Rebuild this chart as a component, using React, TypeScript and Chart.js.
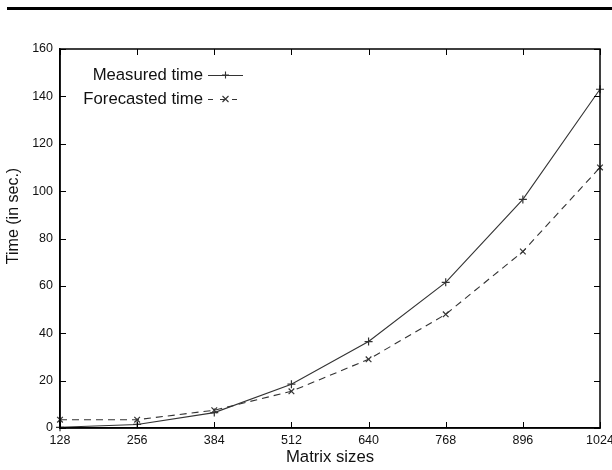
import React, { useEffect, useRef } from "react";
import { Chart, registerables } from "chart.js";

Chart.register(...registerables);

const matrixSizes = [128, 256, 384, 512, 640, 768, 896, 1024];
const measuredTime = [0.3, 1.5, 6.5, 18.5, 36.5, 61.5, 96.5, 143];
const forecastedTime = [3.5, 3.5, 7.5, 15.5, 29, 48, 74.5, 110];
const yTickValues = [0, 20, 40, 60, 80, 100, 120, 140, 160];
const seriesLabels = ["Measured time", "Forecasted time"];
const xTitle = "Matrix sizes";
const yTitle = "Time (in sec.)";

const FONT = '"Liberation Sans", Arial, Helvetica, sans-serif';
const LINE = "#333333";

const framePlugin = {
  id: "frame",
  afterDraw(chart: any) {
    const { ctx, chartArea, scales } = chart;
    const { left, right, top, bottom } = chartArea;
    const x = scales.x;
    const y = scales.y;
    const tl = 6;
    ctx.save();
    ctx.strokeStyle = "#000";
    ctx.lineWidth = 1;
    ctx.beginPath();
    matrixSizes.forEach((v) => {
      const px = Math.round(x.getPixelForValue(v)) + 0.5;
      ctx.moveTo(px, bottom);
      ctx.lineTo(px, bottom - tl);
      ctx.moveTo(px, top);
      ctx.lineTo(px, top + tl);
    });
    yTickValues.forEach((v) => {
      const py = Math.round(y.getPixelForValue(v)) + 0.5;
      ctx.moveTo(left, py);
      ctx.lineTo(left + tl, py);
      ctx.moveTo(right, py);
      ctx.lineTo(right - tl, py);
    });
    ctx.stroke();
    ctx.lineWidth = 1.5;
    ctx.strokeRect(left, top, right - left, bottom - top);

    // top rule
    ctx.fillStyle = "#000";
    ctx.fillRect(7, 7, chart.width - 7, 3);

    // y title
    ctx.save();
    ctx.translate(14, 216);
    ctx.rotate(-Math.PI / 2);
    ctx.font = `16px ${FONT}`;
    ctx.textAlign = "center";
    ctx.textBaseline = "middle";
    ctx.fillStyle = "#111";
    ctx.fillText(yTitle, 0, 0);
    ctx.restore();

    // legend
    ctx.font = `16.7px ${FONT}`;
    ctx.textAlign = "right";
    ctx.textBaseline = "middle";
    ctx.fillStyle = "#111";
    const textRight = 203;
    const rows = [75, 99];
    const lx1 = 208;
    const lx2 = 243;
    const mid = (lx1 + lx2) / 2;
    seriesLabels.forEach((label, i) => {
      const ry = rows[i];
      ctx.fillText(label, textRight, ry);
      ctx.strokeStyle = LINE;
      ctx.lineWidth = 1.1;
      ctx.beginPath();
      if (i === 0) {
        ctx.setLineDash([]);
        ctx.moveTo(lx1, ry + 0.5);
        ctx.lineTo(lx2, ry + 0.5);
        ctx.stroke();
        ctx.beginPath();
        ctx.moveTo(mid, ry - 3.5);
        ctx.lineTo(mid, ry + 3.5);
        ctx.moveTo(mid - 3.5, ry);
        ctx.lineTo(mid + 3.5, ry);
        ctx.stroke();
      } else {
        ctx.setLineDash([5, 7]);
        ctx.moveTo(lx1, ry + 0.5);
        ctx.lineTo(lx2, ry + 0.5);
        ctx.stroke();
        ctx.setLineDash([]);
        ctx.beginPath();
        ctx.moveTo(mid - 3, ry - 3);
        ctx.lineTo(mid + 3, ry + 3);
        ctx.moveTo(mid - 3, ry + 3);
        ctx.lineTo(mid + 3, ry - 3);
        ctx.stroke();
      }
    });
    ctx.restore();
  },
};

export default function App() {
  const ref = useRef<HTMLCanvasElement | null>(null);
  useEffect(() => {
    if (!ref.current) return;
    const chart = new Chart(ref.current, {
      type: "line",
      data: {
        datasets: [
          {
            label: seriesLabels[0],
            data: matrixSizes.map((s, i) => ({ x: s, y: measuredTime[i] })),
            borderColor: LINE,
            borderWidth: 1.1,
            pointStyle: "cross",
            pointRadius: 4,
            pointBorderColor: LINE,
            pointBorderWidth: 1.2,
            fill: false,
            tension: 0,
            clip: false as any,
          },
          {
            label: seriesLabels[1],
            data: matrixSizes.map((s, i) => ({ x: s, y: forecastedTime[i] })),
            borderColor: LINE,
            borderWidth: 1.1,
            borderDash: [7, 5],
            pointStyle: "crossRot",
            pointRadius: 4,
            pointBorderColor: LINE,
            pointBorderWidth: 1.2,
            fill: false,
            tension: 0,
            clip: false as any,
          },
        ],
      },
      options: {
        responsive: false,
        animation: false,
        devicePixelRatio: 1,
        layout: { padding: { top: 49, right: 12, left: 0, bottom: 0 } },
        plugins: { legend: { display: false }, tooltip: { enabled: false } },
        scales: {
          x: {
            type: "linear",
            min: 128,
            max: 1024,
            afterBuildTicks: (s: any) => {
              s.ticks = matrixSizes.map((v) => ({ value: v }));
            },
            afterFit: (s: any) => {
              s.height = 42;
              s.paddingLeft = 0;
              s.paddingRight = 0;
            },
            grid: { display: false, drawTicks: false },
            border: { display: true, color: "#000", width: 1.5 },
            ticks: {
              color: "#111",
              font: { size: 12.5, family: FONT },
              padding: 5,
              maxRotation: 0,
              autoSkip: false,
              callback: (v: any) => String(v),
            },
            title: {
              display: true,
              text: xTitle,
              color: "#111",
              font: { size: 16.7, family: FONT },
              padding: { top: 0, bottom: 3 },
            },
          },
          y: {
            type: "linear",
            min: 0,
            max: 160,
            afterBuildTicks: (s: any) => {
              s.ticks = yTickValues.map((v) => ({ value: v }));
            },
            afterFit: (s: any) => {
              s.width = 60;
              s.paddingTop = 0;
              s.paddingBottom = 0;
            },
            grid: { display: false, drawTicks: false },
            border: { display: true, color: "#000", width: 1.5 },
            ticks: {
              color: "#111",
              font: { size: 12.5, family: FONT },
              padding: 7,
              callback: (v: any) => String(v),
            },
            title: { display: false },
          },
        },
      },
      plugins: [framePlugin],
    } as any);
    return () => chart.destroy();
  }, []);
  return (
    <div style={{ position: "fixed", left: 0, top: 0, width: 612, height: 470, background: "#fff" }}>
      <canvas ref={ref} width={612} height={470} style={{ display: "block" }} />
    </div>
  );
}
